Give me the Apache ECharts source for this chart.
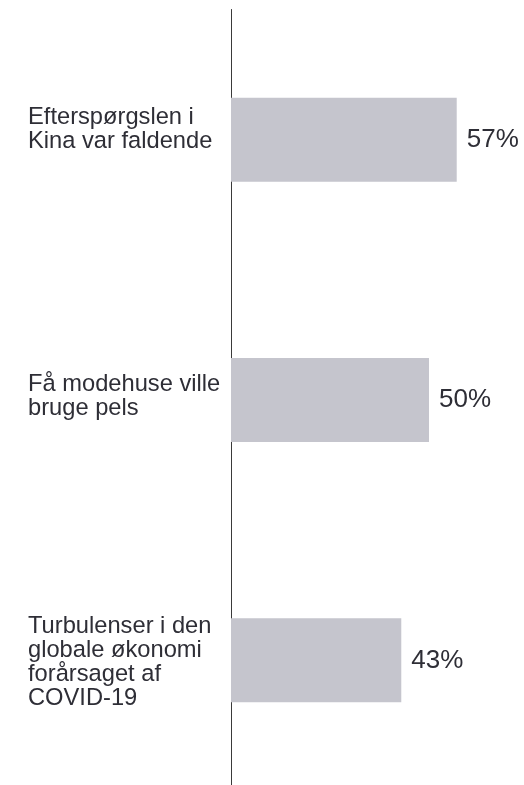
<!DOCTYPE html>
<html>
<head>
<meta charset="utf-8">
<script src="https://cdn.jsdelivr.net/npm/echarts@6/dist/echarts.min.js"></script>
<style>
  html, body { margin: 0; padding: 0; background: #ffffff; }
  #chart { width: 524px; height: 785px; }
</style>
</head>
<body>
<div id="chart"></div>
<script>
// Reasons given for the fall in fur demand (share of respondents, %)
const categories = [
  'Efterspørgslen i\nKina var faldende',
  'Få modehuse ville\nbruge pels',
  'Turbulenser i den\nglobale økonomi\nforårsaget af\nCOVID-19'
];
const shares = [57, 50, 43];

// vertical nudge (px, negative = up) for each category label block
const labelNudge = [-10, -4, 2];

const chart = echarts.init(document.getElementById('chart'), null, { renderer: 'canvas' });

const textColor = '#2e2e36';
const fontFamily = '"Liberation Sans", Arial, Helvetica, sans-serif';

// an invisible spacer line below (or above) a label block moves the block up (or down)
const spacerStyles = {};
labelNudge.forEach((n, i) => {
  spacerStyles['g' + i] = { fontSize: 1, lineHeight: Math.max(1, Math.abs(2 * n)) };
});

chart.setOption({
  animation: false,
  backgroundColor: '#ffffff',
  grid: {
    left: 231, top: 9.5, width: 277.2, bottom: -5.5,
    containLabel: false, outerBoundsMode: 'none'
  },
  xAxis: {
    type: 'value',
    min: 0,
    max: 70,
    show: false
  },
  yAxis: {
    type: 'category',
    data: categories,
    inverse: true,
    offset: 2,
    axisLine: { show: true, lineStyle: { color: '#3a3a3a', width: 1 } },
    axisTick: { show: false },
    splitLine: { show: false },
    axisLabel: {
      margin: 201,
      align: 'left',
      color: textColor,
      fontFamily: fontFamily,
      fontSize: 23.7,
      lineHeight: 24,
      rich: spacerStyles,
      formatter: (value, idx) => {
        const n = labelNudge[idx] || 0;
        if (n < 0) return value + '\n{g' + idx + '| }';
        if (n > 0) return '{g' + idx + '| }\n' + value;
        return value;
      }
    }
  },
  series: [{
    type: 'bar',
    data: shares,
    barWidth: 84,
    itemStyle: { color: '#c5c5cd' },
    label: {
      show: true,
      position: 'right',
      distance: 10,
      formatter: '{c}%',
      color: textColor,
      fontFamily: fontFamily,
      fontSize: 26
    }
  }]
});
</script>
</body>
</html>
